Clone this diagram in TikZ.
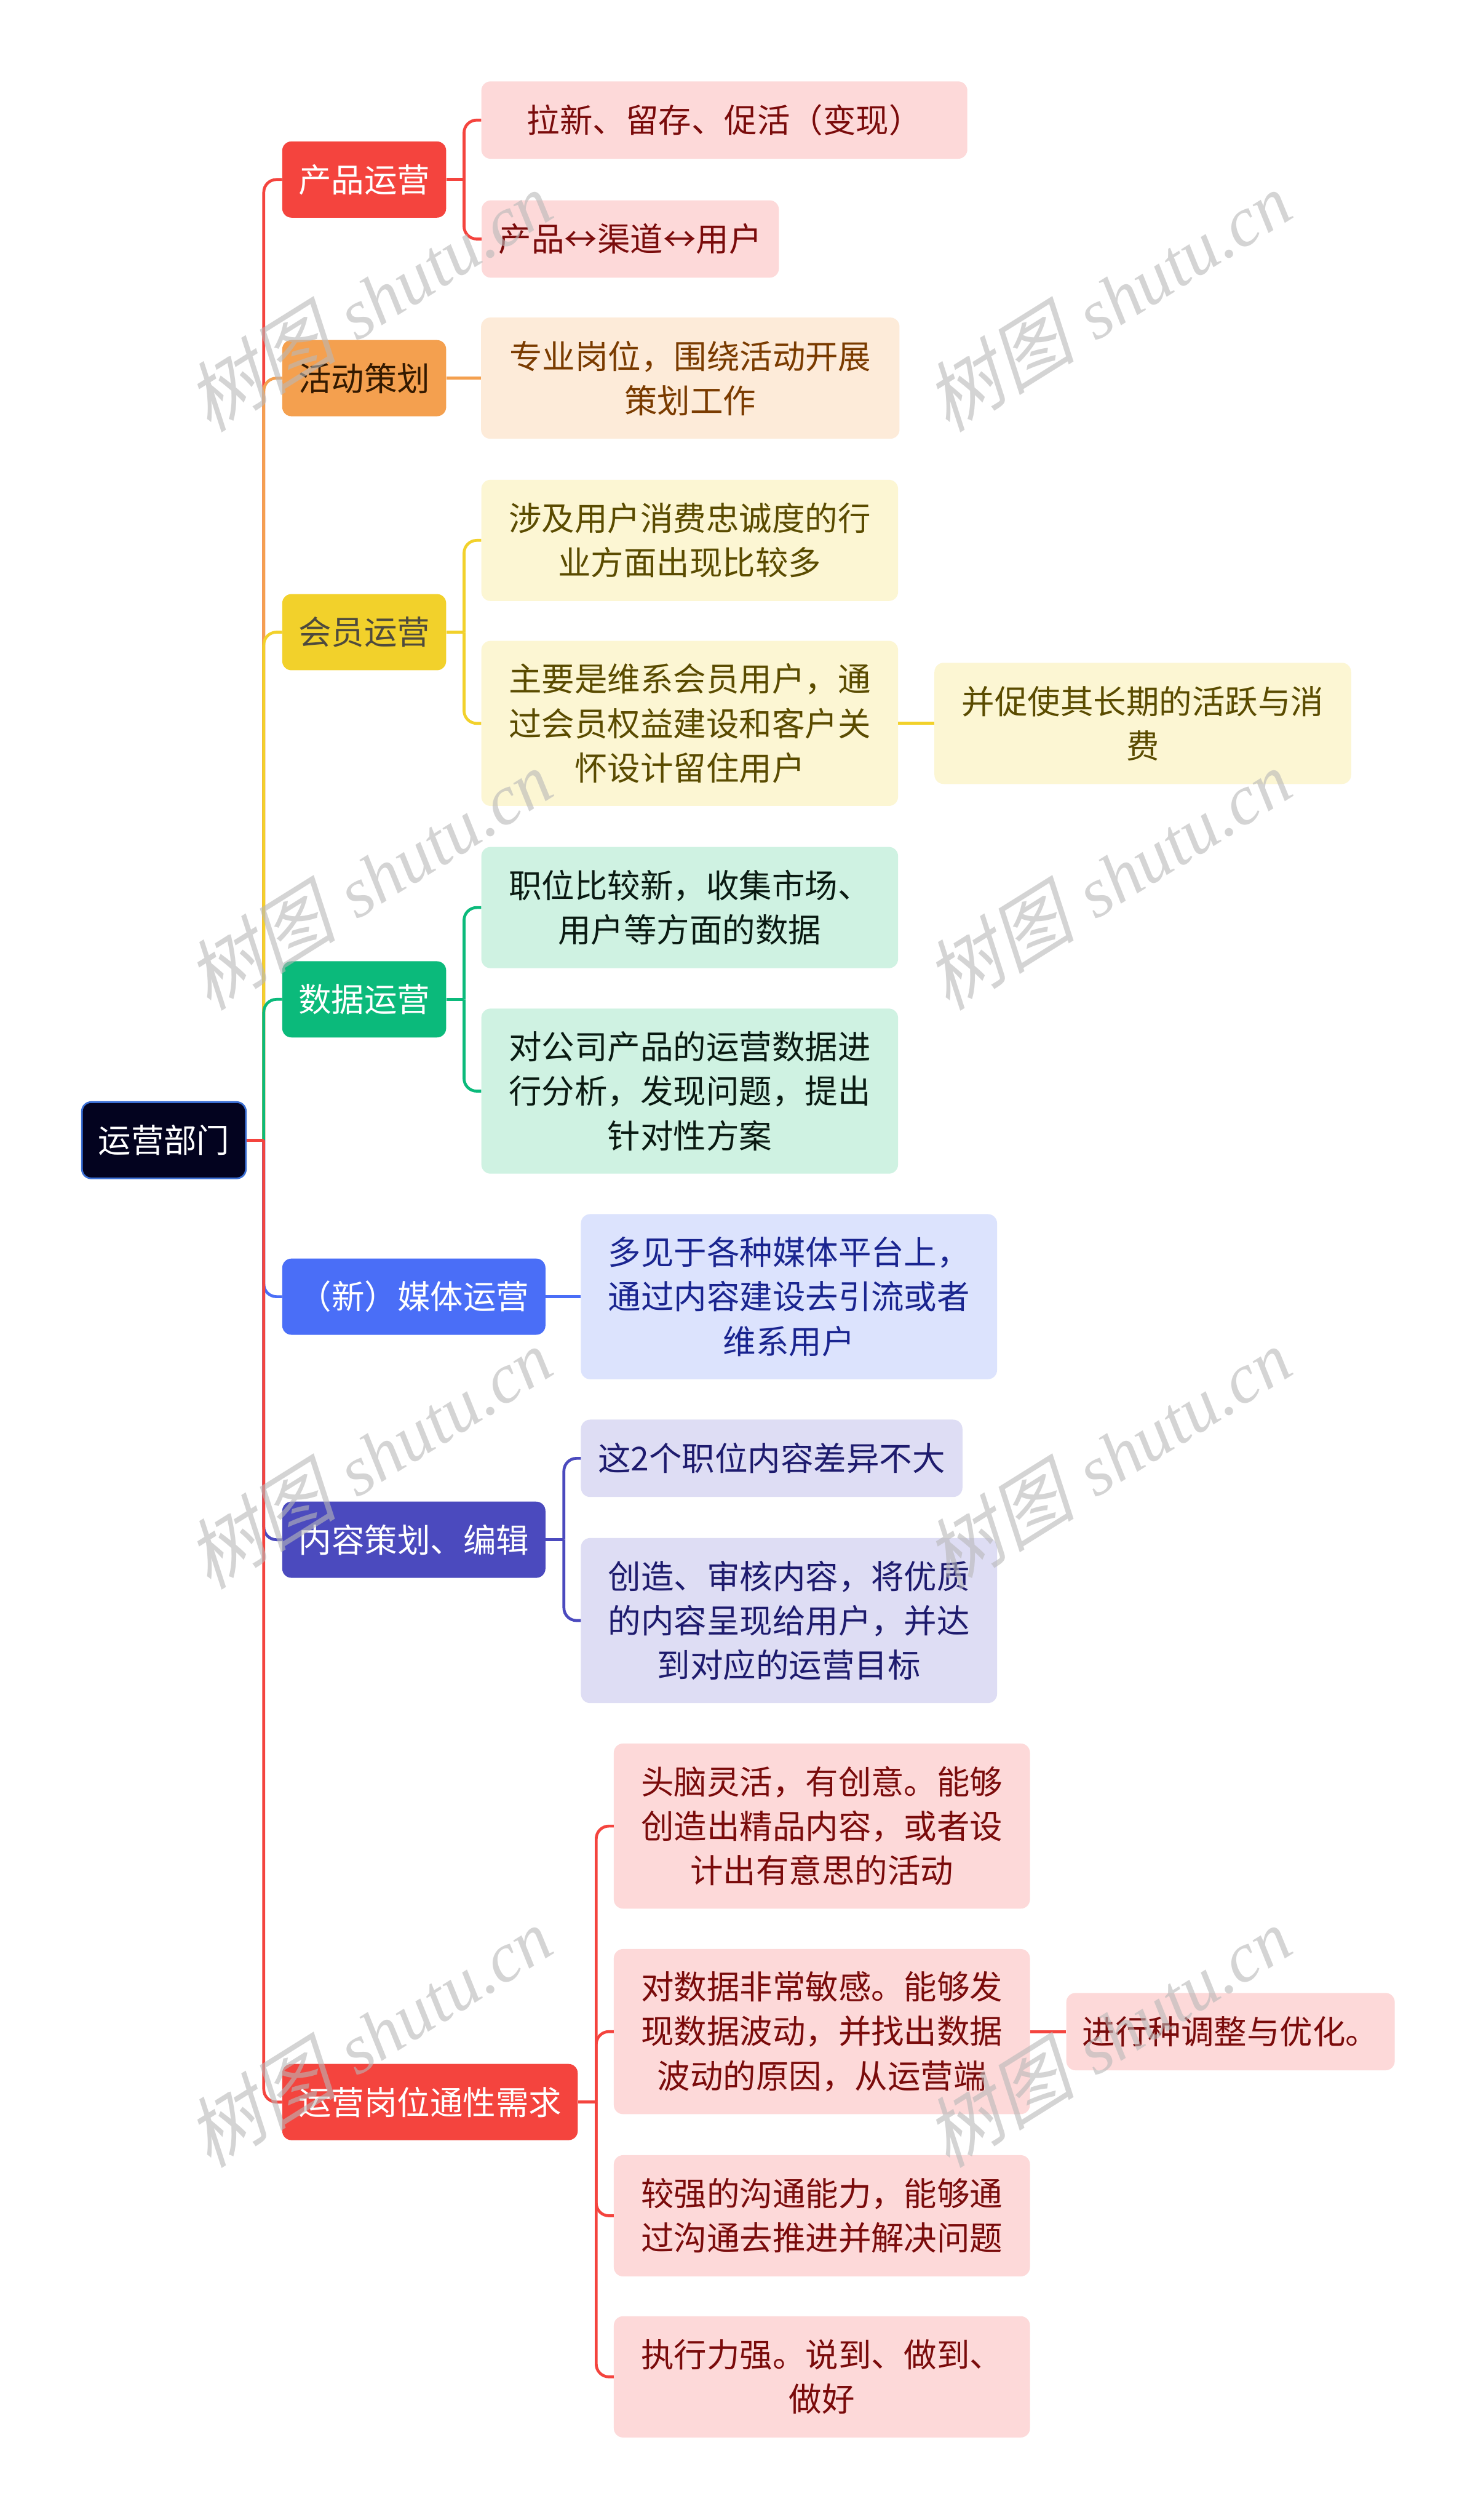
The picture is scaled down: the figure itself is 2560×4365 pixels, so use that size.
\documentclass[tikz,border=0pt]{standalone}
\usepackage{fontspec}
\newfontfamily\cjk{Noto Sans CJK SC}
\newfontfamily\wmcjk[FakeSlant=0.25]{Noto Sans CJK SC}
\newfontfamily\wmlat{Liberation Serif}[ItalicFont={Liberation Serif Italic}]
\definecolor{redB}{HTML}{F4443E}
\definecolor{orangeB}{HTML}{F4A04F}
\definecolor{yellowB}{HTML}{F2D12B}
\definecolor{greenB}{HTML}{0BBA7B}
\definecolor{blueB}{HTML}{4A6EF7}
\definecolor{indigoB}{HTML}{4B4ABE}
\definecolor{rootF}{HTML}{03031F}
\definecolor{rootD}{HTML}{3B6FD4}
\definecolor{pinkL}{HTML}{FDD9D9}
\definecolor{pinkT}{HTML}{7A0B0B}
\definecolor{peachL}{HTML}{FDEBD9}
\definecolor{peachT}{HTML}{7A3B00}
\definecolor{ylwL}{HTML}{FCF6D3}
\definecolor{ylwT}{HTML}{5A4B00}
\definecolor{mintL}{HTML}{CFF2E2}
\definecolor{mintT}{HTML}{0A1A12}
\definecolor{blueL}{HTML}{DCE3FD}
\definecolor{blueT}{HTML}{1A2590}
\definecolor{lavL}{HTML}{DEDDF4}
\definecolor{lavT}{HTML}{1E1B6E}
\definecolor{wmgray}{HTML}{B8B8B8}
\tikzset{
  box/.style={rectangle, rounded corners=16, inner sep=0pt, align=center,
    font=\cjk\fontsize{57}{77}\selectfont},
  branch/.style={box, minimum height=132},
  leaf/.style={box},
  conn/.style={line width=5, rounded corners=22},
  wm/.style={text=wmgray, text opacity=0.6, rotate=32, inner sep=0pt,
    font=\fontsize{122}{126}\selectfont},
}
\newcommand{\wmtext}{{\wmcjk\fontsize{132}{136}\selectfont 树图} {\wmlat\itshape shutu.cn}}
\begin{document}
\begin{tikzpicture}[x=1pt,y=-1pt]
\fill[white] (0,0) rectangle (2560,4365);
\useasboundingbox (0,0) rectangle (2560,4365);

% ---------- nodes ----------
\node[box, fill=rootF, draw=rootD, line width=3, text=white, minimum width=284, minimum height=132] (root) at (284,1975) {运营部门};

\node[branch, fill=redB, text=white, minimum width=284] (b1) at (631,311) {产品运营};
\node[branch, fill=orangeB, text={black!80!orange}, minimum width=284] (b2) at (631,655) {活动策划};
\node[branch, fill=yellowB, text={black!80!yellow}, minimum width=284] (b3) at (631,1095) {会员运营};
\node[branch, fill=greenB, text=white, minimum width=284] (b4) at (631,1731) {数据运营};
\node[branch, fill=blueB, text=white, minimum width=456] (b5) at (717,2246) {（新）媒体运营};
\node[branch, fill=indigoB, text=white, minimum width=456] (b6) at (717,2667) {内容策划、编辑};
\node[branch, fill=redB, text=white, minimum width=512] (b7) at (745,3641) {运营岗位通性需求};

\node[leaf, fill=pinkL, text=pinkT, minimum width=842, minimum height=134] (l11) at (1255,208) {拉新、留存、促活（变现）};
\node[leaf, fill=pinkL, text=pinkT, minimum width=515, minimum height=134] (l12) at (1092,414) {产品↔渠道↔用户};

\node[leaf, fill=peachL, text=peachT, minimum width=725, minimum height=210] (l21) at (1196,655) {专业岗位，围绕活动开展\\策划工作};

\node[leaf, fill=ylwL, text=ylwT, minimum width=722, minimum height=210] (l31) at (1195,936) {涉及用户消费忠诚度的行\\业方面出现比较多};
\node[leaf, fill=ylwL, text=ylwT, minimum width=722, minimum height=286] (l32) at (1195,1253) {主要是维系会员用户，通\\过会员权益建设和客户关\\怀设计留住用户};
\node[leaf, fill=ylwL, text=ylwT, minimum width=722, minimum height=210] (l321) at (1980,1253) {并促使其长期的活跃与消\\费};

\node[leaf, fill=mintL, text=mintT, minimum width=722, minimum height=210] (l41) at (1195,1572) {职位比较新，收集市场、\\用户等方面的数据};
\node[leaf, fill=mintL, text=mintT, minimum width=722, minimum height=286] (l42) at (1195,1890) {对公司产品的运营数据进\\行分析，发现问题，提出\\针对性方案};

\node[leaf, fill=blueL, text=blueT, minimum width=721, minimum height=286] (l51) at (1367,2246) {多见于各种媒体平台上，\\通过内容建设去引流或者\\维系用户};

\node[leaf, fill=lavL, text=lavT, minimum width=661, minimum height=134] (l61) at (1337,2526) {这2个职位内容差异不大};
\node[leaf, fill=lavL, text=lavT, minimum width=721, minimum height=286] (l62) at (1367,2807) {创造、审核内容，将优质\\的内容呈现给用户，并达\\到对应的运营目标};

\node[leaf, fill=pinkL, text=pinkT, minimum width=721, minimum height=286] (l71) at (1424,3163) {头脑灵活，有创意。能够\\创造出精品内容，或者设\\计出有意思的活动};
\node[leaf, fill=pinkL, text=pinkT, minimum width=721, minimum height=286] (l72) at (1424,3519) {对数据非常敏感。能够发\\现数据波动，并找出数据\\波动的原因，从运营端};
\node[leaf, fill=pinkL, text=pinkT, minimum width=569, minimum height=134] (l721) at (2132,3519) {进行种调整与优化。};
\node[leaf, fill=pinkL, text=pinkT, minimum width=721, minimum height=210] (l73) at (1424,3838) {较强的沟通能力，能够通\\过沟通去推进并解决问题};
\node[leaf, fill=pinkL, text=pinkT, minimum width=721, minimum height=210] (l74) at (1424,4117) {执行力强。说到、做到、\\做好};

% ---------- connectors ----------
\coordinate (J) at (457,1975);
\coordinate (E1) at (804,311);
\coordinate (E3) at (804,1095);
\coordinate (E4) at (804,1731);
\coordinate (E6) at (977,2667);
\coordinate (E7) at (1033,3641);

% level 1 (drawn in order; later ones on top)
\draw[conn, redB] (J) |- (b1.west);
\draw[conn, orangeB] (J) |- (b2.west);
\draw[conn, yellowB] (J) |- (b3.west);
\draw[conn, greenB] (J) |- (b4.west);
\draw[conn, blueB] (J) |- (b5.west);
\draw[conn, indigoB] (J) |- (b6.west);
\draw[conn, redB] (J) |- (b7.west);
\draw[conn, redB] (root.east) -- (J);

% level 2
\draw[conn, redB] (b1.east) -- (E1);
\draw[conn, redB] (E1) |- (l11.west);
\draw[conn, redB] (E1) |- (l12.west);
\draw[conn, orangeB] (b2.east) -- (l21.west);
\draw[conn, yellowB] (b3.east) -- (E3);
\draw[conn, yellowB] (E3) |- (l31.west);
\draw[conn, yellowB] (E3) |- (l32.west);
\draw[conn, yellowB] (l32.east) -- (l321.west);
\draw[conn, greenB] (b4.east) -- (E4);
\draw[conn, greenB] (E4) |- (l41.west);
\draw[conn, greenB] (E4) |- (l42.west);
\draw[conn, blueB] (b5.east) -- (l51.west);
\draw[conn, indigoB] (b6.east) -- (E6);
\draw[conn, indigoB] (E6) |- (l61.west);
\draw[conn, indigoB] (E6) |- (l62.west);
\draw[conn, redB] (b7.east) -- (E7);
\draw[conn, redB] (E7) |- (l71.west);
\draw[conn, redB] (E7) |- (l72.west);
\draw[conn, redB] (E7) |- (l73.west);
\draw[conn, redB] (E7) |- (l74.west);
\draw[conn, redB] (l72.east) -- (l721.west);

% ---------- watermarks ----------
\foreach \wy [count=\k] in {520,1522,2524,3526} {
  \node[wm] (wmL\k) at (638,\wy) {\wmtext};
  \node[wm] (wmR\k) at (1918,\wy) {\wmtext};
}
\end{tikzpicture}
\end{document}
